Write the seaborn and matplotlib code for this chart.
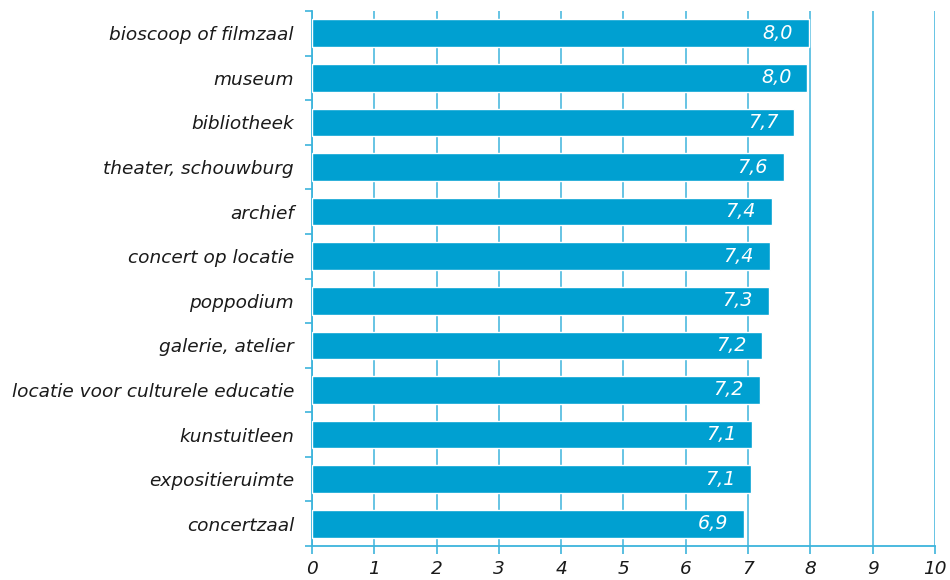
import matplotlib
matplotlib.use("Agg")
import matplotlib.pyplot as plt
import seaborn as sns
import pandas as pd
import numpy as np

# data
categories = [
    "bioscoop of filmzaal", "museum", "bibliotheek", "theater, schouwburg",
    "archief", "concert op locatie", "poppodium", "galerie, atelier",
    "locatie voor culturele educatie", "kunstuitleen", "expositieruimte",
    "concertzaal",
]
scores = [7.98, 7.95, 7.74, 7.57, 7.38, 7.35, 7.33, 7.23, 7.19, 7.07, 7.05, 6.94]
score_labels = ["8,0", "8,0", "7,7", "7,6", "7,4", "7,4", "7,3", "7,2", "7,2", "7,1", "7,1", "6,9"]
x_ticks = list(range(0, 11))

BAR_COLOR = "#00A0D1"
LINE_COLOR = "#3DB4DC"

df = pd.DataFrame({"categorie": categories, "score": scores})

sns.set_theme(style="white")
plt.rcParams["font.family"] = ["DejaVu Sans"]

fig = plt.figure(figsize=(9.5, 5.8), dpi=100)
ax = fig.add_axes([0.3284, 0.0586, 0.6558, 0.9224])

sns.barplot(data=df, x="score", y="categorie", orient="h", color=BAR_COLOR,
            saturation=1, width=0.62, ax=ax, zorder=3)

ax.set_xlim(0, 10)
ax.set_ylim(len(categories) - 0.5, -0.5)
ax.set_xticks(x_ticks)
ax.set_xticklabels([str(t) for t in x_ticks], fontsize=13.3, style="italic", color="#1a1a1a")
ax.set_yticklabels(categories, fontsize=13.3, style="italic", color="#1a1a1a")
ax.set_xlabel("")
ax.set_ylabel("")

# vertical grid lines
ax.grid(axis="x", color=LINE_COLOR, linewidth=1.1, zorder=0)
ax.grid(axis="y", visible=False)

for side in ["top", "right"]:
    ax.spines[side].set_visible(False)
for side in ["left", "bottom"]:
    ax.spines[side].set_color(LINE_COLOR)
    ax.spines[side].set_linewidth(1.3)

ax.tick_params(axis="x", direction="out", length=6, width=1.2, color=LINE_COLOR, pad=4, bottom=True)
ax.tick_params(axis="y", which="major", length=0, pad=13)
ax.set_yticks(np.arange(-0.5, len(categories)), minor=True)
ax.tick_params(axis="y", which="minor", direction="out", length=5, width=1.2, color=LINE_COLOR, left=True)

# value labels inside the bars
for i, (val, lab) in enumerate(zip(scores, score_labels)):
    ax.annotate(lab, (val, i), xytext=(-16, 0), textcoords="offset pixels",
                ha="right", va="center", color="white", fontsize=13.8, style="italic", zorder=4)

fig.savefig("out.png", dpi=100)
